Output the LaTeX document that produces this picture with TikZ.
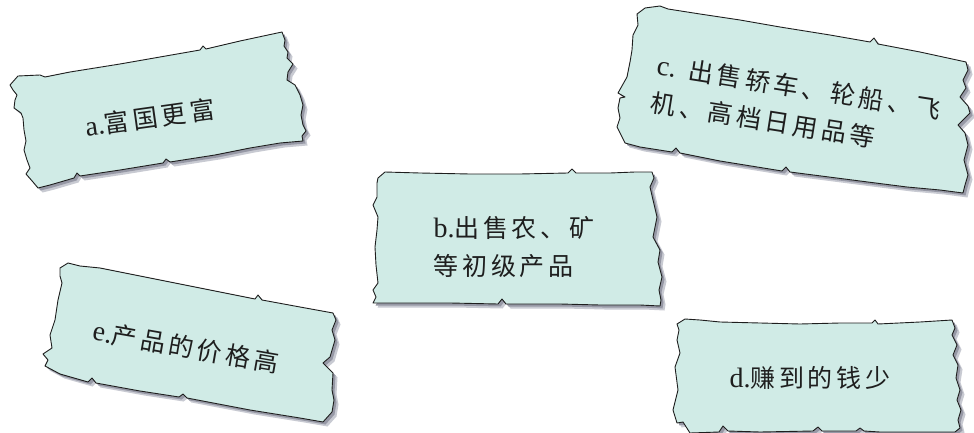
\documentclass[tikz,border=0pt]{standalone}
\usepackage{fontspec}
\setmainfont{Liberation Serif}
\newfontfamily\cjk[LetterSpace=15]{Noto Sans CJK SC}
\newcommand\lat[1]{{\rmfamily\fontsize{28}{38}\selectfont #1}}
\definecolor{paper}{RGB}{208,235,230}
\definecolor{shadowA}{RGB}{150,152,165}
\definecolor{shadowB}{RGB}{200,202,210}
\definecolor{ink}{RGB}{30,30,30}
\tikzset{
  shadowfar/.style={fill=shadowB, shift={(4.5,4.5)}},
  shadownear/.style={fill=shadowA, shift={(2.5,2.5)}},
  torn/.style={fill=paper, draw=ink, line width=0.9pt, line join=round},
  lbl/.style={text=ink, font=\fontsize{25}{38}\selectfont\cjk, inner sep=0pt}
}
\newcommand\pathA{(10,85) -- (18,76) -- (40,75) -- (45,77) -- (70,72) -- (120,64) -- (160,57) -- (200,50) -- (203,46) -- (206,49) -- (240,41) -- (282,32)
 -- (285,40) -- (284,46) -- (288,52) -- (287,58) -- (293,64) -- (288,72) -- (287,80) -- (295,85) -- (300,95) -- (303,105) -- (301,115) -- (303,125) -- (306,131) -- (302,136) -- (303,141)
 -- (280,143) -- (250,148) -- (215,155) -- (170,162) -- (166,159) -- (163,163) -- (120,170) -- (80,176) -- (77,173) -- (74,178) -- (50,185) -- (38,188)
 -- (33,182) -- (26,174) -- (30,168) -- (27,160) -- (24,150) -- (26,141) -- (24,130) -- (23,118) -- (21,113) -- (14,108) -- (15,100) -- (17,95) -- (13,90) -- cycle}
\newcommand\pathB{(378,178) -- (385,172) -- (420,173) -- (470,174) -- (520,174) -- (568,173) -- (572,169) -- (576,173) -- (610,173) -- (635,172) -- (652,172)
 -- (654,178) -- (650,187) -- (653,200) -- (657,217) -- (653,237) -- (660,250) -- (658,262) -- (662,277) -- (659,290) -- (661,300) -- (660,306)
 -- (640,305) -- (600,305) -- (560,304) -- (520,304) -- (506,304) -- (502,299) -- (498,304) -- (450,303) -- (410,303) -- (390,303) -- (373,303)
 -- (376,297) -- (373,290) -- (378,283) -- (376,265) -- (375,247) -- (377,230) -- (378,217) -- (373,205) -- (377,197) -- (377,183) -- cycle}
\newcommand\pathC{(637,14) -- (645,8) -- (660,6) -- (668,9) -- (700,14) -- (740,20) -- (780,27) -- (830,35) -- (870,42) -- (874,38) -- (878,44) -- (920,52) -- (966,62)
 -- (968,70) -- (963,80) -- (966,88) -- (960,97) -- (968,106) -- (970,113) -- (958,125) -- (965,133) -- (968,145) -- (964,160) -- (968,175) -- (965,185) -- (963,193)
 -- (940,190) -- (907,187) -- (860,181) -- (790,172) -- (786,167) -- (782,171) -- (720,161) -- (680,153) -- (676,148) -- (672,152) -- (640,147) -- (625,143)
 -- (621,135) -- (617,127) -- (620,118) -- (618,108) -- (620,98) -- (625,97) -- (618,93) -- (627,77) -- (630,62) -- (632,50) -- (633,35) -- (638,25) -- cycle}
\newcommand\pathD{(677,324) -- (685,319) -- (700,320) -- (720,322) -- (760,323) -- (800,324) -- (840,323) -- (872,323) -- (875,320) -- (878,324) -- (920,322) -- (952,320)
 -- (955,328) -- (952,335) -- (957,345) -- (953,355) -- (958,365) -- (956,378) -- (960,390) -- (957,400) -- (961,410) -- (958,420) -- (960,428) -- (955,432)
 -- (940,432) -- (880,432) -- (864,431) -- (860,428) -- (856,431) -- (822,431) -- (818,427) -- (813,431) -- (760,432) -- (728,431) -- (723,426) -- (719,432)
 -- (690,433) -- (683,422) -- (677,423) -- (673,410) -- (678,390) -- (675,367) -- (680,353) -- (677,340) -- (679,330) -- cycle}
\newcommand\pathE{(60,268) -- (68,263) -- (80,266) -- (100,268) -- (150,278) -- (200,288) -- (255,299) -- (258,295) -- (262,300) -- (300,307) -- (333,313)
 -- (336,320) -- (332,330) -- (335,340) -- (330,357) -- (323,363) -- (333,373) -- (332,390) -- (334,400) -- (332,412) -- (323,422)
 -- (300,418) -- (250,410) -- (187,398) -- (183,394) -- (179,397) -- (140,391) -- (96,383) -- (92,378) -- (88,382) -- (60,374) -- (45,366)
 -- (48,360) -- (43,354) -- (52,348) -- (50,335) -- (55,320) -- (58,300) -- (62,283) -- (60,276) -- cycle}
\begin{document}
\begin{tikzpicture}[x=1pt,y=-1pt]
\useasboundingbox (0,0) rectangle (974,433);
\foreach \p in {\pathA,\pathB,\pathC,\pathD,\pathE}{
  \fill[shadowfar] \p;
  \fill[shadownear] \p;
  \filldraw[torn] \p;
}
\node[lbl, rotate=8] (ta) at (150,118) {\lat{a.}富国更富};
\node[lbl, align=left] (tb) at (514,247) {\lat{b.}出售农、矿\\等初级产品};
\node[lbl, align=left, rotate=-9] (tc) at (796,106) {\lat{c.} 出售轿车、轮船、飞\\机、高档日用品等};
\node[lbl] (td) at (810,378) {\lat{d.}赚到的钱少};
\node[lbl, rotate=-10] (te) at (186,347) {\lat{e.}产品的价格高};
\end{tikzpicture}
\end{document}
